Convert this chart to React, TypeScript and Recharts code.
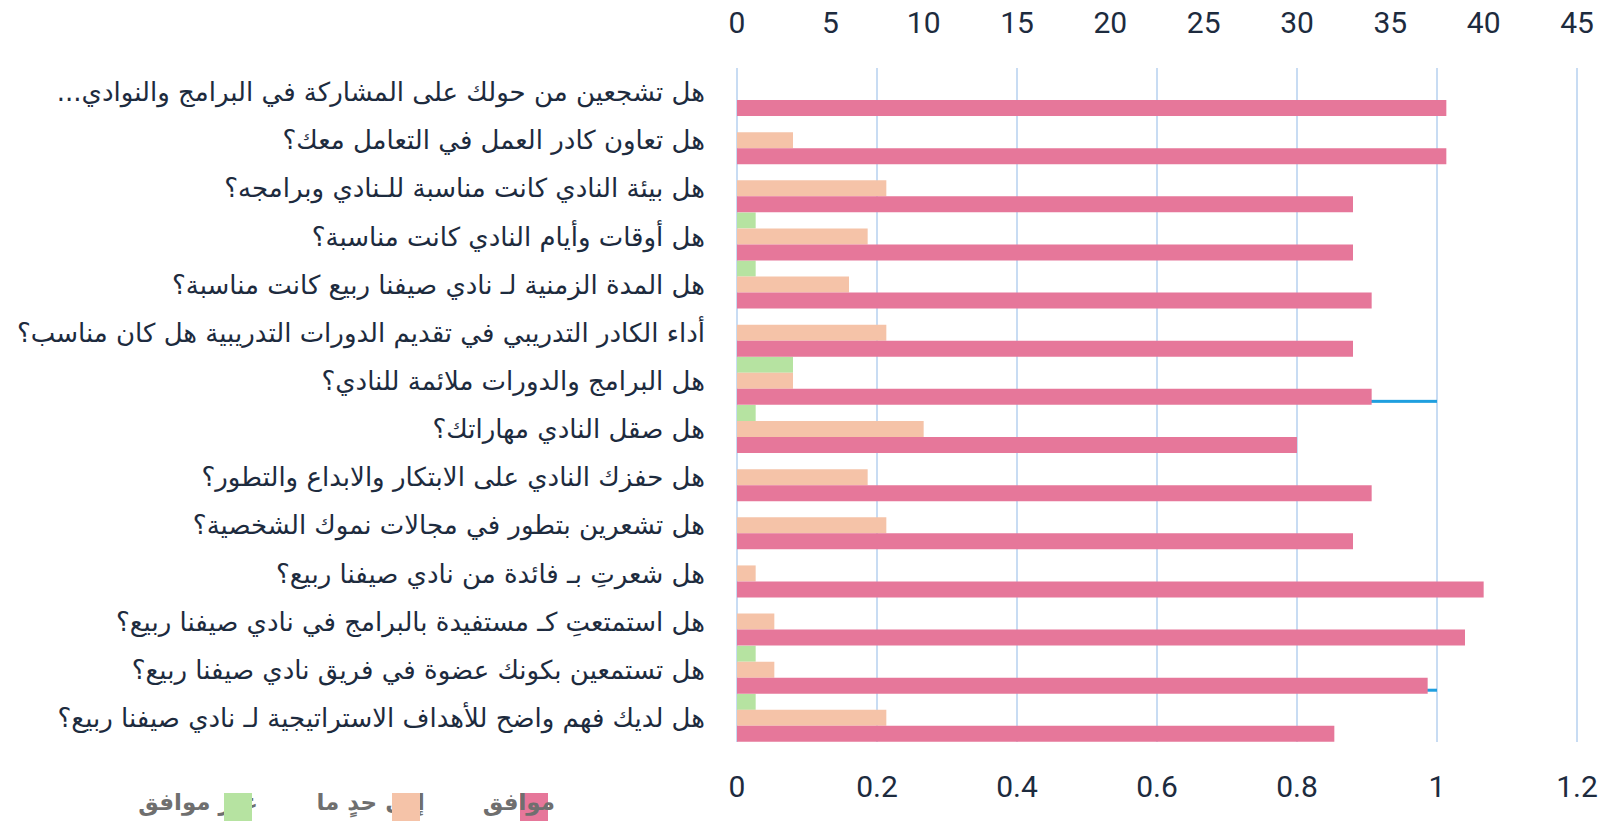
import { Bar, BarChart, CartesianGrid, XAxis, YAxis } from "recharts";

const questions = [
  "هل تشجعين من حولك على المشاركة في البرامج والنوادي...\u200F",
  "هل تعاون كادر العمل في التعامل معك؟",
  "هل بيئة النادي كانت مناسبة للـنادي وبرامجه؟",
  "هل أوقات وأيام النادي كانت مناسبة؟",
  "هل المدة الزمنية لـ نادي صيفنا ربيع كانت مناسبة؟",
  "أداء الكادر التدريبي في تقديم الدورات التدريبية هل كان مناسب؟",
  "هل البرامج والدورات ملائمة للنادي؟",
  "هل صقل النادي مهاراتك؟",
  "هل حفزك النادي على الابتكار والابداع والتطور؟",
  "هل تشعرين بتطور في مجالات نموك الشخصية؟",
  "هل شعرتِ بـ فائدة من نادي صيفنا ربيع؟",
  "هل استمتعتِ كـ مستفيدة بالبرامج في نادي صيفنا ربيع؟",
  "هل تستمعين بكونك عضوة في فريق نادي صيفنا ربيع؟",
  "هل لديك فهم واضح للأهداف الاستراتيجية لـ نادي صيفنا ربيع؟",
];

const agree = [38, 38, 33, 33, 34, 33, 34, 30, 34, 33, 40, 39, 37, 32];
const neutral = [0, 3, 8, 7, 6, 8, 3, 10, 7, 8, 1, 2, 2, 8];
const disagree = [0, 0, 0, 1, 1, 0, 3, 1, 0, 0, 0, 0, 1, 1];
// thin blue marker on the secondary (0-1.2) axis
const marker = [0, 0, 0, 0, 0, 0, 1, 0, 0, 0, 0, 0, 1, 0];

const countTicks = [0, 5, 10, 15, 20, 25, 30, 35, 40, 45];
const pctTicks = [0, 0.2, 0.4, 0.6, 0.8, 1, 1.2];

const seriesNames = ["موافق", "إلى حدٍ ما", "غير موافق"];
const seriesColors = ["#e6779a", "#f5c3a8", "#b6e3a1"];

const data = questions.map((q, i) => ({
  q,
  agree: agree[i],
  neutral: neutral[i],
  disagree: disagree[i],
  marker: marker[i],
}));

const ink = "#1d2b3e";
const numFont = "Roboto, 'Liberation Sans', sans-serif";

function QuestionTick({ x, y, payload }: any) {
  return (
    <text x={x} y={y} textAnchor="end" dominantBaseline="central" fill={ink} fontSize={26} fontFamily="'DejaVu Sans', sans-serif">
      {payload.value}
    </text>
  );
}

function MarkerLine({ x, y, width }: any) {
  if (!width || width <= 0) return <g />;
  return <rect x={x} y={y + 20} width={width} height={3} fill="#1f9fdf" />;
}

// legend slots: [swatch left, text right, swatch on top of text]
const legendSlots = [
  { left: 520, right: 555, over: false },
  { left: 392, right: 425, over: true },
  { left: 224, right: 258, over: true },
];

export default function App() {
  return (
    <div style={{ position: "absolute", left: 0, top: 0, width: 1607, height: 821, background: "#fff", overflow: "hidden" }}>
      <BarChart
        width={1607}
        height={821}
        data={data}
        layout="vertical"
        margin={{ top: 0, right: 30, bottom: 0, left: 0 }}
        barCategoryGap={0}
        barGap={0}
      >
        <CartesianGrid horizontal={false} xAxisId="pct" yAxisId="cat" stroke="#c8dcf3" strokeWidth={2} />
        <XAxis
          xAxisId="count"
          orientation="top"
          type="number"
          domain={[0, 45]}
          ticks={countTicks}
          height={68}
          axisLine={false}
          tickLine={false}
          tickSize={0}
          tickMargin={35}
          tick={{ fill: ink, fontSize: 30, fontFamily: numFont }}
        />
        <XAxis
          xAxisId="pct"
          orientation="bottom"
          type="number"
          domain={[0, 1.2]}
          ticks={pctTicks}
          height={79}
          axisLine={false}
          tickLine={false}
          tickSize={0}
          tickMargin={34}
          tick={{ fill: ink, fontSize: 30, fontFamily: numFont }}
        />
        <YAxis
          yAxisId="cat"
          type="category"
          dataKey="q"
          width={737}
          interval={0}
          axisLine={false}
          tickLine={false}
          tickSize={0}
          tickMargin={32}
          tick={<QuestionTick />}
        />
        <YAxis yAxisId="m" type="category" dataKey="q" hide />
        <Bar xAxisId="pct" yAxisId="m" dataKey="marker" barSize={2} shape={<MarkerLine />} isAnimationActive={false} />
        <Bar xAxisId="count" yAxisId="cat" dataKey="disagree" name={seriesNames[2]} fill={seriesColors[2]} isAnimationActive={false} />
        <Bar xAxisId="count" yAxisId="cat" dataKey="neutral" name={seriesNames[1]} fill={seriesColors[1]} isAnimationActive={false} />
        <Bar xAxisId="count" yAxisId="cat" dataKey="agree" name={seriesNames[0]} fill={seriesColors[0]} isAnimationActive={false} />
      </BarChart>
      {seriesNames.map((name, i) => (
        <div key={name}>
          <div
            style={{
              position: "absolute",
              left: legendSlots[i].left,
              top: 793,
              width: 28,
              height: 28,
              background: seriesColors[i],
              zIndex: legendSlots[i].over ? 3 : 1,
            }}
          />
          <span
            style={{
              position: "absolute",
              right: 1607 - legendSlots[i].right,
              top: 788,
              lineHeight: "28px",
              fontSize: 23,
              fontWeight: "bold",
              color: "#6f6f6f",
              fontFamily: "'DejaVu Sans', sans-serif",
              direction: "rtl",
              whiteSpace: "nowrap",
              zIndex: 2,
            }}
          >
            {name}
          </span>
        </div>
      ))}
    </div>
  );
}
